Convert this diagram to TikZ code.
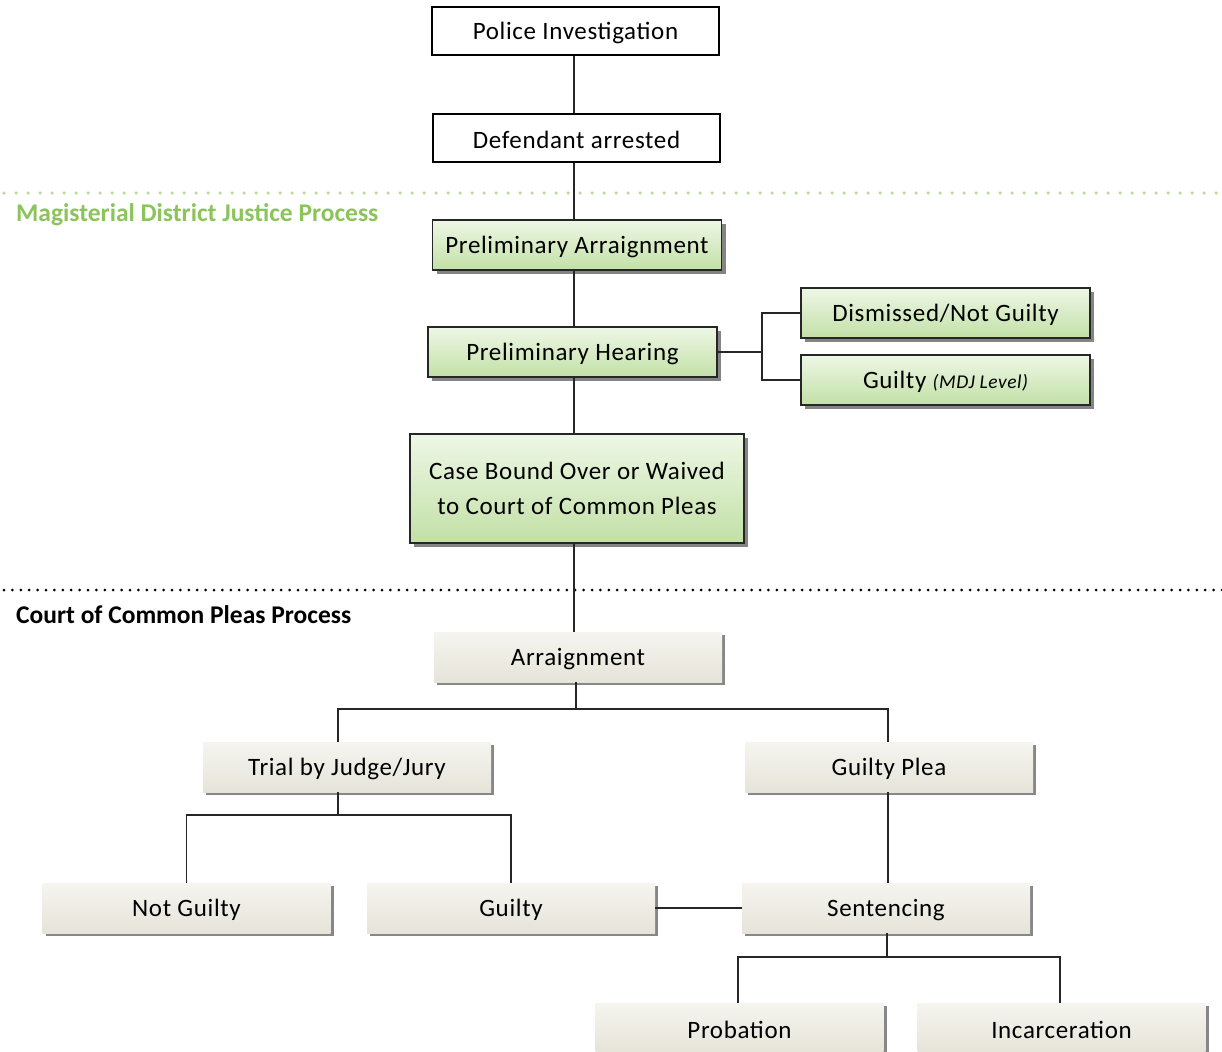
\documentclass[tikz,border=0pt]{standalone}
\usepackage{fontspec}
\setmainfont{Carlito}
\usetikzlibrary{shadows}
\definecolor{gtop}{HTML}{EEF7E6}
\definecolor{gbot}{HTML}{C2E0A6}
\definecolor{btop}{HTML}{F5F4EF}
\definecolor{bbot}{HTML}{E6E4D9}
\definecolor{mdjgreen}{HTML}{8CC45C}
\definecolor{dotgreen}{HTML}{B5DC97}
\newfontfamily\boxfont[LetterSpace=2.6]{Carlito}
\newcommand{\lowtxt}[1]{\raisebox{-2pt}[\height][\depth]{#1}}
\begin{document}
\begin{tikzpicture}[x=1pt,y=-1pt,
  every node/.style={font=\boxfont\fontsize{25}{35}\selectfont, inner sep=0pt, align=center},
  whitebox/.style={draw=black, line width=1.3pt, fill=white, minimum width=287, minimum height=48},
  greenbox/.style={draw=black!85, line width=1.3pt, top color=gtop, bottom color=gbot,
     minimum width=289, minimum height=50,
     drop shadow={shadow xshift=4pt, shadow yshift=-4pt, fill=black!60, opacity=0.8}},
  beigebox/.style={top color=btop, bottom color=bbot, minimum width=288, minimum height=50,
     drop shadow={shadow xshift=3pt, shadow yshift=-3pt, fill=black!55, opacity=0.85}},
  conn/.style={draw=black!85, line width=1.3pt},
  sectitle/.style={font=\fontsize{25.5}{30}\selectfont\bfseries, anchor=west}
]
\useasboundingbox (0,0) rectangle (1222,1051);
\clip (0,0) rectangle (1222,1051);
\fill[white] (0,0) rectangle (1222,1051);

% separators
\draw[dotgreen, line width=3.5pt, line cap=round, dash pattern=on 0pt off 12pt] (4,193) -- (1222,193);
\draw[black, line width=3pt, line cap=round, dash pattern=on 0pt off 8.4pt] (4,590) -- (1222,590);
\node[sectitle, text=mdjgreen] (mdj) at (16,215) {Magisterial District Justice Process};
\node[sectitle, text=black] (ccp) at (16,615) {Court of Common Pleas Process};

% main column
\node[whitebox] (pi) at (575.5,31) {\lowtxt{Police Investigation}};
\node[whitebox] (da) at (576.5,138) {\lowtxt{Defendant arrested}};
\node[greenbox] (pa) at (577,245) {\lowtxt{Preliminary Arraignment}};
\node[greenbox] (ph) at (572.5,352) {\lowtxt{Preliminary Hearing}};
\node[greenbox, minimum width=334, minimum height=109] (cb) at (577,488.5) {Case Bound Over or Waived\\to Court of Common Pleas};
\node[greenbox] (dn) at (945.5,313) {\lowtxt{Dismissed/Not Guilty}};
\node[greenbox] (gm) at (945.5,380) {\lowtxt{Guilty {\fontsize{19.5}{20}\selectfont\itshape (MDJ Level)}}};

\node[beigebox] (ar) at (578,657) {\lowtxt{Arraignment}};
\node[beigebox] (tr) at (347,767) {\lowtxt{Trial by Judge/Jury}};
\node[beigebox] (gp) at (889,767) {\lowtxt{Guilty Plea}};
\node[beigebox] (ng) at (186.5,908) {\lowtxt{Not Guilty}};
\node[beigebox] (gu) at (511,908) {\lowtxt{Guilty}};
\node[beigebox] (se) at (886,908) {\lowtxt{Sentencing}};
\node[beigebox] (pr) at (739.5,1028) {\lowtxt{Probation}};
\node[beigebox] (ic) at (1061.5,1028) {\lowtxt{Incarceration}};

% junction coordinates
\coordinate (m) at (574,0);
\coordinate (j1) at (762,352);
\coordinate (j2) at (576,709);
\coordinate (tj) at (338,709);
\coordinate (j3) at (338,815);
\coordinate (gpj) at (888,709);
\coordinate (j4) at (887,957);
\coordinate (pj) at (738,957);
\coordinate (ij) at (1060,957);

% connectors
\draw[conn] (m |- pi.south) -- (m |- da.north);
\draw[conn] (m |- da.south) -- (m |- pa.north);
\draw[conn] (m |- pa.south) -- (m |- ph.north);
\draw[conn] (m |- ph.south) -- (m |- cb.north);
\draw[conn] (m |- cb.south) -- (m |- ar.north);
\draw[conn] (ph.east) -- (j1);
\draw[conn] (dn.west) -| (j1) |- (gm.west);

\draw[conn] (j2 |- ar.south) -- (j2);
\draw[conn] (tj |- tr.north) -- (tj) -- (gpj) -- (gpj |- gp.north);
\draw[conn] (j3 |- tr.south) -- (j3);
\draw[conn] (ng.north) |- (j3) -| (gu.north);
\draw[conn] (gpj |- gp.south) -- (gpj |- se.north);
\draw[conn] (gu.east) -- (se.west);
\draw[conn] (j4 |- se.south) -- (j4);
\draw[conn] (pj |- pr.north) -- (pj) -- (ij) -- (ij |- ic.north);
\end{tikzpicture}
\end{document}
